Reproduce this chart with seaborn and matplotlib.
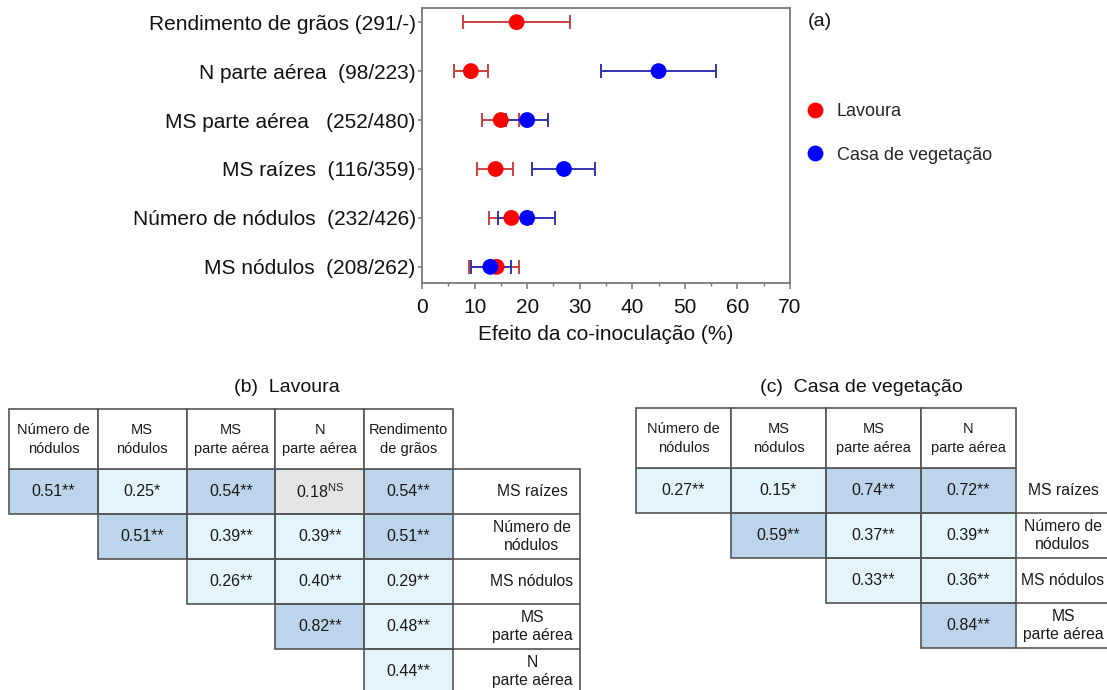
import numpy as np
import pandas as pd
import matplotlib
matplotlib.use("Agg")
import matplotlib.pyplot as plt
from matplotlib.colors import ListedColormap
from matplotlib.patches import Rectangle
from matplotlib.ticker import MultipleLocator
import seaborn as sns

# ---------------- data ----------------
traits = ["Rendimento de grãos (291/-)", "N parte aérea  (98/223)",
          "MS parte aérea   (252/480)", "MS raízes  (116/359)",
          "Número de nódulos  (232/426)", "MS nódulos  (208/262)"]
groups = ["Lavoura", "Casa de vegetação"]
lav_mean = [18.0, 9.3, 15.0, 14.0, 17.0, 14.2]
lav_lo = [7.8, 6.0, 11.4, 10.5, 12.8, 9.0]
lav_hi = [28.1, 12.5, 18.4, 17.3, 21.0, 18.4]
casa_mean = [np.nan, 45.0, 20.0, 27.0, 20.0, 13.0]
casa_lo = [np.nan, 34.0, 16.0, 21.0, 14.5, 9.3]
casa_hi = [np.nan, 56.0, 24.0, 33.0, 25.3, 17.0]
xticks = [0, 10, 20, 30, 40, 50, 60, 70]

cols_b = ["Número de\nnódulos", "MS\nnódulos", "MS\nparte aérea", "N\nparte aérea", "Rendimento\nde grãos"]
rows_b = ["MS raízes", "Número de\nnódulos", "MS nódulos", "MS\nparte aérea", "N\nparte aérea"]
r_b = [[0.51, 0.25, 0.54, 0.18, 0.54],
       [np.nan, 0.51, 0.39, 0.39, 0.51],
       [np.nan, np.nan, 0.26, 0.40, 0.29],
       [np.nan, np.nan, np.nan, 0.82, 0.48],
       [np.nan, np.nan, np.nan, np.nan, 0.44]]
sig_b = [["**", "*", "**", "NS", "**"],
         ["", "**", "**", "**", "**"],
         ["", "", "**", "**", "**"],
         ["", "", "", "**", "**"],
         ["", "", "", "", "**"]]

cols_c = ["Número de\nnódulos", "MS\nnódulos", "MS\nparte aérea", "N\nparte aérea"]
rows_c = ["MS raízes", "Número de\nnódulos", "MS nódulos", "MS\nparte aérea"]
r_c = [[0.27, 0.15, 0.74, 0.72],
       [np.nan, 0.59, 0.37, 0.39],
       [np.nan, np.nan, 0.33, 0.36],
       [np.nan, np.nan, np.nan, 0.84]]
sig_c = [["**", "*", "**", "**"],
         ["", "**", "**", "**"],
         ["", "", "**", "**"],
         ["", "", "", "**"]]

# ---------------- style ----------------
sns.set_theme(style="ticks")
plt.rcParams["font.family"] = ["Liberation Sans", "DejaVu Sans"]
plt.rcParams["mathtext.fontset"] = "custom"
plt.rcParams["mathtext.rm"] = "Liberation Sans"
plt.rcParams["mathtext.it"] = "Liberation Sans:italic"
plt.rcParams["mathtext.bf"] = "Liberation Sans:bold"

W, H = 1107, 690
fig = plt.figure(figsize=(W / 100, H / 100), dpi=100)
fig.patch.set_facecolor("white")

# ---------------- panel (a) ----------------
ax = fig.add_axes([422 / W, 1 - 283 / H, 368 / W, 275 / H])
pos = np.arange(len(traits))
df = pd.DataFrame({
    "pos": np.concatenate([pos, pos]),
    "mean": lav_mean + casa_mean,
    "lo": lav_lo + casa_lo,
    "hi": lav_hi + casa_hi,
    "group": [groups[0]] * len(traits) + [groups[1]] * len(traits),
}).dropna()

err_colors = {groups[0]: "#c9403f", groups[1]: "#3434b4"}
pt_colors = {groups[0]: "#ff0000", groups[1]: "#0000ff"}
for g in groups:
    d = df[df["group"] == g]
    ax.errorbar(d["mean"], d["pos"], xerr=[d["mean"] - d["lo"], d["hi"] - d["mean"]],
                fmt="none", ecolor=err_colors[g], elinewidth=1.4, capsize=5,
                capthick=1.4, zorder=2)
sns.scatterplot(data=df, x="mean", y="pos", hue="group", palette=pt_colors,
                s=130, linewidth=0, ax=ax, zorder=3)

ax.set_xlim(0, 70)
ax.set_ylim(len(traits) - 1 + 0.33, -0.29)
ax.set_xticks(xticks)
ax.xaxis.set_minor_locator(MultipleLocator(5))
ax.set_yticks(pos)
ax.set_yticklabels(traits)
ax.set_xlabel("Efeito da co-inoculação (%)", fontsize=15, labelpad=6, color="#111111")
ax.set_ylabel("")
ax.tick_params(axis="both", which="major", labelsize=15, colors="#777777",
               labelcolor="#111111", direction="out")
ax.tick_params(axis="x", which="major", length=4.5, width=1.1, pad=6)
ax.tick_params(axis="x", which="minor", length=2.5, width=1.0, colors="#777777")
ax.tick_params(axis="y", which="major", length=3, width=1.1, pad=1.5)
for sp in ax.spines.values():
    sp.set_visible(True)
    sp.set_color("#7a7a7a")
    sp.set_linewidth(1.3)

sns.move_legend(ax, loc="center left", bbox_to_anchor=((806 - 422) / 368, (283 - 133.5) / 275),
                frameon=False, title=None, fontsize=13, handlelength=1.0,
                handletextpad=0.7, labelspacing=1.45, borderpad=0, borderaxespad=0)
fig.text(808 / W, 1 - 22 / H, "(a)", fontsize=14, ha="left", va="center", color="#111111")


# ---------------- tables (b) and (c) ----------------
LC = "#555555"
LW = 1.2


def draw_table(axt, rvals, sigs, cols, rows, label_w, label_cx, label_top, label_right):
    r = np.array(rvals, dtype=float)
    mask = np.isnan(r)
    cat = np.where(np.array(sigs) == "NS", 2, np.where(r >= 0.5, 1, 0)).astype(float)
    annot = np.empty(r.shape, dtype=object)
    for i in range(r.shape[0]):
        for j in range(r.shape[1]):
            if mask[i, j]:
                annot[i, j] = ""
            elif sigs[i][j] == "NS":
                annot[i, j] = f"{r[i, j]:.2f}" + r"$^{\mathrm{NS}}$"
            else:
                annot[i, j] = f"{r[i, j]:.2f}{sigs[i][j]}"
    cmap = ListedColormap(["#e3f4fb", "#bdd5eb", "#e5e5e5"])
    sns.heatmap(cat, mask=mask, cmap=cmap, vmin=-0.5, vmax=2.5, cbar=False,
                annot=annot, fmt="", linewidths=0,
                annot_kws={"fontsize": 11.5, "color": "#1a1a1a"},
                xticklabels=False, yticklabels=False, ax=axt)
    axt.collections[0].set_clip_on(False)
    for t in axt.texts:
        t.set_clip_on(False)
    axt.tick_params(left=False, bottom=False)
    nr, nc = r.shape
    # cell borders for the filled cells only
    for i in range(nr):
        for j in range(nc):
            if not mask[i, j]:
                axt.add_patch(Rectangle((j, i), 1, 1, facecolor="none", edgecolor=LC,
                                        lw=LW, clip_on=False, zorder=3))
    hh = 1.33
    for j, name in enumerate(cols):
        axt.add_patch(Rectangle((j, -hh), 1, hh, facecolor="white", edgecolor=LC,
                                lw=LW, clip_on=False, zorder=3))
        axt.text(j + 0.5, -hh / 2, name, ha="center", va="center", fontsize=10.5,
                 linespacing=1.45, color="#1a1a1a", clip_on=False, zorder=4)
    for i, name in enumerate(rows):
        axt.text(nc + label_cx, i + 0.5, name, ha="center", va="center", fontsize=11.3,
                 linespacing=1.25, color="#1a1a1a", clip_on=False, zorder=4)
        axt.plot([nc, nc + label_w], [i + 1, i + 1], color=LC, lw=LW,
                 clip_on=False, zorder=3)
    if label_top:
        axt.plot([nc, nc + label_w], [0, 0], color=LC, lw=LW, clip_on=False, zorder=3)
    if label_right:
        axt.plot([nc + label_w, nc + label_w], [0, nr], color=LC, lw=LW,
                 clip_on=False, zorder=3)


ax_b = fig.add_axes([9 / W, 1 - 694 / H, 444 / W, 225 / H])
draw_table(ax_b, r_b, sig_b, cols_b, rows_b, label_w=127 / 89, label_cx=0.89,
           label_top=True, label_right=True)
ax_c = fig.add_axes([636 / W, 1 - 648 / H, 380 / W, 180 / H])
draw_table(ax_c, r_c, sig_c, cols_c, rows_c, label_w=1.6, label_cx=0.495,
           label_top=False, label_right=False)

fig.text(287 / W, 1 - 388 / H, "(b)  Lavoura", fontsize=14, ha="center", va="center",
         color="#111111")
fig.text(861 / W, 1 - 388 / H, "(c)  Casa de vegetação", fontsize=14, ha="center",
         va="center", color="#111111")

fig.savefig("out.png", dpi=100, facecolor="white")
